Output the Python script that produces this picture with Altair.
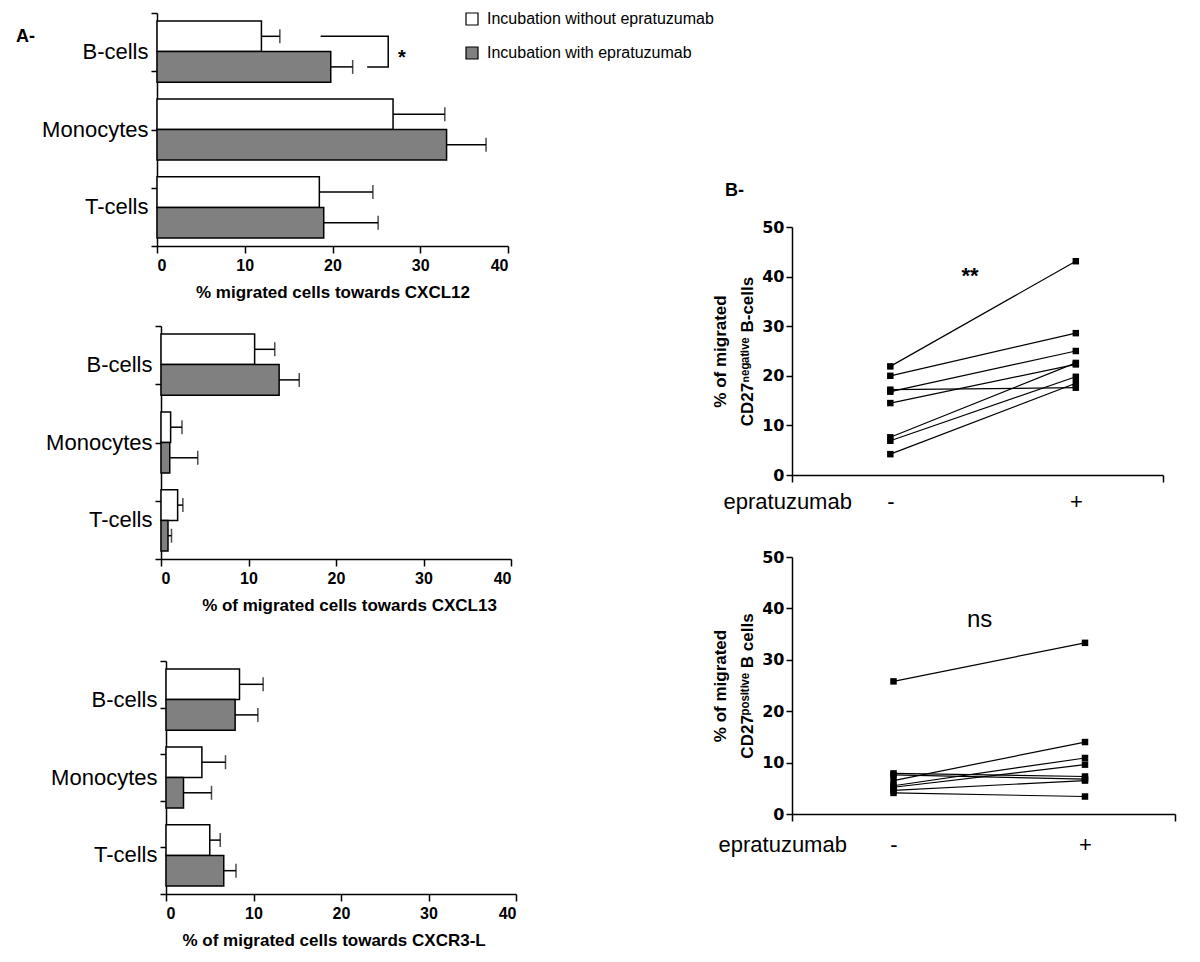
import altair as alt
import pandas as pd

FONT = "Liberation Sans"
NUMFONT = "DejaVu Sans"

# ---------------- data ----------------
cells = ["B-cells", "Monocytes", "T-cells"]
groups = ["Incubation without epratuzumab", "Incubation with epratuzumab"]
fills = ["white", "#808080"]

cxcl12_without = [11.9, 26.9, 18.5]
cxcl12_without_sem = [2.1, 5.9, 6.1]
cxcl12_with = [19.8, 33.0, 19.0]
cxcl12_with_sem = [2.5, 4.5, 6.2]

cxcl13_without = [10.7, 1.1, 1.9]
cxcl13_without_sem = [2.3, 1.3, 0.6]
cxcl13_with = [13.5, 1.0, 0.8]
cxcl13_with_sem = [2.3, 3.2, 0.4]

cxcr3_without = [8.4, 4.1, 5.0]
cxcr3_without_sem = [2.7, 2.7, 1.2]
cxcr3_with = [7.9, 2.0, 6.6]
cxcr3_with_sem = [2.6, 3.2, 1.4]

# significance bracket (CXCL12, B-cells), in data units
bracket_x = [18.65, 26.35, 26.35, 23.95]
bracket_group = [groups[0], groups[0], groups[1], groups[1]]
star_label = ["*"]
star_x = 27.9

treatments = ["-", "+"]
cd27neg_pre = [21.9, 20.0, 17.2, 16.8, 14.5, 7.6, 6.9, 4.2]
cd27neg_post = [43.1, 28.6, 17.6, 25.0, 22.3, 22.6, 19.8, 18.5]
cd27pos_pre = [25.8, 6.5, 5.5, 5.2, 7.9, 7.6, 4.6, 4.1]
cd27pos_post = [33.3, 14.0, 10.9, 9.6, 7.3, 6.8, 6.5, 3.4]

XMIN, XMAX = -0.53, 1.47
PH = 233  # plotted height of bar panels


def bar_layers(wo, wo_sem, w, w_sem, xtitle, height, xrange, yshift, nq, title_x,
               legend=False, bracket=False):
    df = pd.DataFrame({
        "cell": cells * 2,
        "group": [groups[0]] * 3 + [groups[1]] * 3,
        "value": wo + w,
        "sem": wo_sem + w_sem,
    })
    base = alt.Chart(df).transform_calculate(hi="datum.value + datum.sem")
    yband = alt.Y("cell:N", sort=cells,
                  scale=alt.Scale(domain=cells, range=[0, PH], paddingInner=0.215, paddingOuter=0.103),
                  axis=alt.Axis(title=None, ticks=False, domain=False, labelFont=FONT,
                                labelFontSize=22, labelColor="black", labelPadding=9,
                                offset=yshift, orient="left"))
    ysimple = alt.Y("cell:N", sort=cells)
    yoff = alt.YOffset("group:N", sort=groups,
                       scale=alt.Scale(domain=groups, paddingInner=0, paddingOuter=0))
    xq = alt.X("value:Q",
               scale=alt.Scale(domain=[0, 40], range=xrange, nice=False, zero=True),
               axis=alt.Axis(values=[0, 10, 20, 30, 40], title=xtitle, offset=-(height - PH),
                             orient="bottom",
                             tickSize=7, tickWidth=1.5, domainWidth=1.5, labelPadding=4,
                             labelFont=FONT, labelFontSize=16, labelFontWeight="bold",
                             titleFont=FONT, titleFontSize=17, titleFontWeight="bold",
                             titleX=title_x, titleY=46, titleBaseline="middle",
                             titleAlign="center", grid=False))
    if legend:
        leg = alt.Legend(title=None, orient="none", legendX=303, legendY=-2,
                         symbolType="square", symbolSize=144, symbolStrokeColor="black",
                         symbolStrokeWidth=1.2, labelFont=FONT, labelFontSize=16,
                         labelColor="black", labelOffset=7, rowPadding=16, padding=0,
                         labelLimit=400)
    else:
        leg = None
    fill = alt.Fill("group:N", sort=groups, scale=alt.Scale(domain=groups, range=fills), legend=leg)
    bars = base.mark_bar(stroke="black", strokeWidth=1.5).encode(x=xq, y=yband, yOffset=yoff, fill=fill)
    err = base.mark_rule(color="black", strokeWidth=1.5).encode(
        x="value:Q", x2="hi:Q", y=ysimple, yOffset=alt.YOffset("group:N", sort=groups))
    caps = base.mark_tick(color="black", thickness=1.5, size=14).encode(
        x="hi:Q", y=ysimple, yOffset=alt.YOffset("group:N", sort=groups))
    layers = [bars, err, caps]
    if bracket:
        bdf = pd.DataFrame({"x": bracket_x, "group": bracket_group,
                            "cell": [cells[0]] * 4, "k": list(range(4))})
        br = alt.Chart(bdf).mark_line(color="black", strokeWidth=1.5).encode(
            x="x:Q", y=ysimple, yOffset=alt.YOffset("group:N", sort=groups), order="k:Q")
        sdf = pd.DataFrame({"t": star_label, "cell": [cells[0]]})
        st = alt.Chart(sdf).mark_text(font=FONT, fontSize=20, fontWeight="bold",
                                      baseline="alphabetic", dy=12, color="black").encode(
            x=alt.XDatum(star_x), y=ysimple, text="t:N")
        layers += [br, st]
    inner = alt.layer(*layers)
    tick_axis = alt.Chart(df).mark_point(opacity=0).encode(
        y=alt.YDatum(0, type="quantitative",
                     scale=alt.Scale(domain=[0, nq], range=[PH, 0], nice=False, zero=False),
                     axis=alt.Axis(values=list(range(nq + 1)), labels=False, title=None,
                                   tickSize=6, tickWidth=1.5, domainWidth=1.5, grid=False,
                                   orient="left", offset=yshift)))
    return [inner, tick_axis]


def pair_layer(pre, post, ytitle, xr, yr, host_h, note, note_x, note_y, note_size,
               note_weight, xt_dx, xt_y):
    n = len(pre)
    df = pd.DataFrame({"subject": list(range(n)) * 2,
                       "treat": [treatments[0]] * n + [treatments[1]] * n,
                       "value": pre + post})
    base = alt.Chart(df).transform_calculate(xpos="datum.treat == '+' ? 1 : 0")
    x = alt.X("xpos:Q", scale=alt.Scale(domain=[XMIN, XMAX], range=xr, nice=False, zero=False),
              axis=alt.Axis(values=[XMIN, 0, 1, XMAX], orient="bottom", offset=yr[0] - host_h,
                            labelExpr="datum.value == 0 ? '-' : (datum.value == 1 ? '+' : '')",
                            tickOpacity={"condition": {"test": "datum.value == 0 || datum.value == 1", "value": 0}, "value": 1},
                            tickSize=7, tickWidth=1.5, domainWidth=1.5,
                            labelFont=FONT, labelFontSize=22, labelBaseline="middle",
                            labelPadding=xt_y - 7, labelOverlap=False, labelFlush=False,
                            title="epratuzumab", titleFont=FONT, titleFontSize=22,
                            titleFontWeight="normal", titleX=xr[0] + xt_dx, titleY=xt_y,
                            titleAlign="left", titleBaseline="middle", grid=False))
    y = alt.Y("value:Q", scale=alt.Scale(domain=[0, 50], range=yr, nice=False),
              axis=alt.Axis(values=[0, 10, 20, 30, 40, 50], orient="left", offset=-xr[0],
                            tickSize=6, tickWidth=1.5,
                            domainWidth=1.5, labelFont=NUMFONT, labelFontSize=16,
                            labelFontWeight="bold", labelPadding=2, title=ytitle,
                            titleFont=FONT, titleFontSize=17, titleFontWeight="bold",
                            titleLineHeight=27, titlePadding=5, grid=False))
    lines = base.mark_line(color="black", strokeWidth=1.2).encode(x=x, y=y, detail="subject:N")
    pts = base.mark_square(size=42, color="black", opacity=1).encode(x="xpos:Q", y="value:Q")
    ndf = pd.DataFrame({"t": [note]})
    txt = alt.Chart(ndf).mark_text(font=FONT, fontSize=note_size, fontWeight=note_weight,
                                   baseline="middle", color="black").encode(
        x=alt.XDatum(note_x), y=alt.YDatum(note_y), text="t:N")
    return alt.layer(lines, pts, txt)


# right-hand panels (B) live in the first panel's coordinate frame
q1 = pair_layer(cd27neg_pre, cd27neg_post, ["% of migrated", "CD27ⁿᵉᵍᵃᵗⁱᵛᵉ B-cells"],
                [631, 1002], [462, 214], PH, "**", 0.43, 40.1, 22, "bold", -69, 26)
q2 = pair_layer(cd27pos_pre, cd27pos_post, ["% of migrated", "CD27ᵖᵒˢⁱᵗⁱᵛᵉ B cells"],
                [631, 1014], [801, 544], PH, "ns", 0.45, 37.7, 24, "normal", -74, 30)

p1 = alt.layer(
    *bar_layers(cxcl12_without, cxcl12_without_sem, cxcl12_with, cxcl12_with_sem,
                "% migrated cells towards CXCL12", 233, [-4, 347], 4, 4, 171.5,
                legend=True, bracket=True),
    q1, q2,
).resolve_scale(x="independent", y="independent").resolve_axis(
    x="independent", y="independent").properties(
    width=350, height=233,
    title=alt.TitleParams("A-", anchor="start", frame="group", dx=-145, dy=48,
                          offset=0, baseline="alphabetic", font=FONT,
                          fontSize=18, fontWeight="bold", color="black"))

p2 = alt.layer(
    *bar_layers(cxcl13_without, cxcl13_without_sem, cxcl13_with, cxcl13_with_sem,
                "% of migrated cells towards CXCL13", 255, [0, 350], 0, 4, 188),
).resolve_scale(y="independent").resolve_axis(y="independent").properties(
    width=350, height=255,
    title=alt.TitleParams("B-", anchor="start", frame="group", dx=564, dy=-111.5,
                          offset=0, baseline="alphabetic", font=FONT,
                          fontSize=18, fontWeight="bold", color="black"))

p3 = alt.layer(
    *bar_layers(cxcr3_without, cxcr3_without_sem, cxcr3_with, cxcr3_with_sem,
                "% of migrated cells towards CXCR3-L", 233, [5, 355], -5, 5, 172.6),
).resolve_scale(y="independent").resolve_axis(y="independent").properties(
    width=350, height=233)

chart = alt.vconcat(p1, p2, p3, spacing=80).properties(
    bounds="flush",
    padding={"left": 8, "top": 3, "right": 5, "bottom": 5},
).configure(font=FONT).configure_view(stroke="transparent", strokeWidth=0).configure_axis(
    domainColor="black", tickColor="black", labelColor="black", titleColor="black"
)

chart.save("out.html", embed_options={"renderer": "svg", "actions": False})
